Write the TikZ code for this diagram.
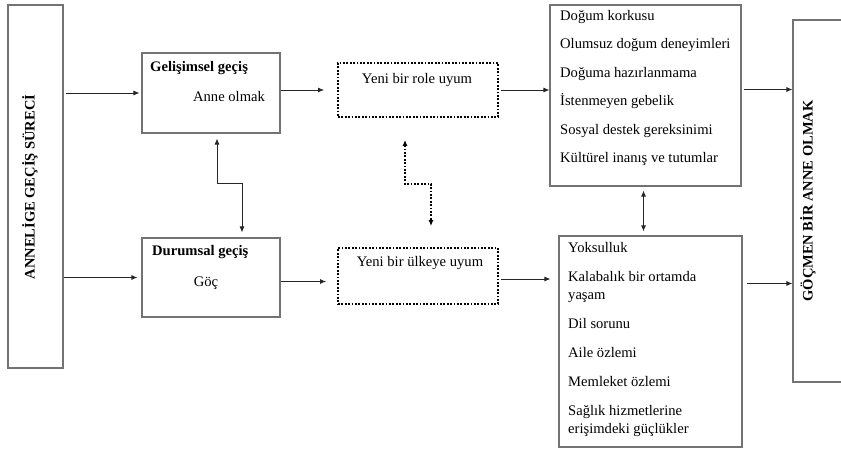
\documentclass[tikz,border=0pt]{standalone}
\usepackage{fontspec}
\setmainfont{Liberation Serif}
\usetikzlibrary{arrows.meta}

\begin{document}
\begin{tikzpicture}[
        x=1pt, y=-1pt,
        font=\fontsize{14.6}{18}\selectfont,
        box/.style={draw=black!55, line width=1.1pt, inner sep=0pt},
        dotbox/.style={draw=black, line width=1.8pt,
                       dash pattern=on 1.8pt off 1.6pt, inner sep=0pt},
        head/.style={font=\fontsize{14.6}{18}\selectfont\bfseries, inner sep=0pt},
        vlab/.style={font=\fontsize{14.5}{18}\selectfont\bfseries, rotate=90,
                     inner sep=0pt},
        items/.style={align=left, inner sep=0pt, anchor=north west},
        arr/.style={draw=black!85, line width=0.9pt, -{Latex[length=6pt,width=5pt]}},
        twoarr/.style={draw=black!85, line width=0.9pt,
                       {Latex[length=6pt,width=5pt]}-{Latex[length=6pt,width=5pt]}},
        dotarr/.style={twoarr, draw=black, line width=1.8pt, dash pattern=on 1.8pt off 1.6pt},
    ]
    \useasboundingbox (0,0) rectangle (841,457);

    % outer columns
    \node[box, minimum width=55, minimum height=363] (ann) at (35.5,186.5) {};
    \node[vlab] (annlab) at (30,187) {ANNELİGE GEÇİŞ SÜRECİ};

    \node[box, minimum width=50, minimum height=362] (goc) at (818,201) {};
    \node[vlab] (goclab) at (808,201) {GÖÇMEN BİR ANNE OLMAK};

    % transitions
    \node[box, minimum width=138, minimum height=80] (gel) at (211,93) {};
    \node[head, anchor=west] (gelhead) at (150,68) {Gelişimsel geçiş};
    \node[inner sep=0pt] (geltxt) at (229,97) {Anne olmak};

    \node[box, minimum width=138, minimum height=79] (dur) at (211,277.5) {};
    \node[head, anchor=west] (durhead) at (152,252) {Durumsal geçiş};
    \node[inner sep=0pt] (durtxt) at (206,283) {Göç};

    % adaptation
    \node[dotbox, minimum width=160, minimum height=54] (role) at (418,90) {};
    \node[inner sep=0pt] (roletxt) at (417,80) {Yeni bir role uyum};

    \node[dotbox, minimum width=160, minimum height=56] (ulke) at (418,276) {};
    \node[inner sep=0pt] (ulketxt) at (420,263) {Yeni bir ülkeye uyum};

    % factor lists
    \node[box, minimum width=191, minimum height=181] (risk1) at (645.5,95.5) {};
    \node[items] (risk1txt) at (560,10) {Doğum korkusu\\[10.5pt]
        Olumsuz doğum deneyimleri\\[10.5pt]
        Doğuma hazırlanmama\\[10.5pt]
        İstenmeyen gebelik\\[10.5pt]
        Sosyal destek gereksinimi\\[10.5pt]
        Kültürel inanış ve tutumlar};

    \node[box, minimum width=183, minimum height=211] (risk2) at (650.5,341.5) {};
    \node[items] (risk2txt) at (568,242.5) {Yoksulluk\\[11pt]
        Kalabalık bir ortamda\\yaşam\\[11pt]
        Dil sorunu\\[11pt]
        Aile özlemi\\[11pt]
        Memleket özlemi\\[11pt]
        Sağlık hizmetlerine\\erişimdeki güçlükler};

    % connectors
    \draw[arr, shorten <=2pt, shorten >=2pt] (ann.east |- gel.west) -- (gel.west);
    \draw[arr, shorten >=4pt] (ann.east |- dur.west) -- (dur.west);

    \draw[arr, shorten >=13pt] ([yshift=3pt]gel.east) -- ([yshift=3pt]gel.east -| role.west);
    \draw[arr, shorten >=11pt] ([yshift=-4pt]dur.east) -- ([yshift=-4pt]dur.east -| ulke.west);

    \draw[arr, shorten <=2pt] (role.east) -- (role.east -| risk1.west);
    \draw[arr, shorten <=2pt, shorten >=8pt] ([yshift=-3pt]ulke.east) -- ([yshift=-3pt]ulke.east -| risk2.west);

    \draw[arr, shorten <=2pt] ([yshift=6pt]risk1.east) -- ([yshift=6pt]risk1.east -| goc.west);
    \draw[arr, shorten <=4pt] ([yshift=58pt]risk2.east) -- ([yshift=58pt]risk2.east -| goc.west);

    \draw[twoarr, shorten <=5pt, shorten >=5pt]
        ([xshift=6pt]gel.south) -- ++(0,50) -| ([xshift=31pt]dur.north);
    \draw[dotarr, shorten <=22pt, shorten >=21pt]
        ([xshift=-13pt]role.south) -- ++(0,66) -| ([xshift=13pt]ulke.north);
    \draw[twoarr, shorten <=4pt, shorten >=4pt]
        ([xshift=-2pt]risk1.south) -- ([xshift=-2pt]risk1.south |- risk2.north);

\end{tikzpicture}
\end{document}
